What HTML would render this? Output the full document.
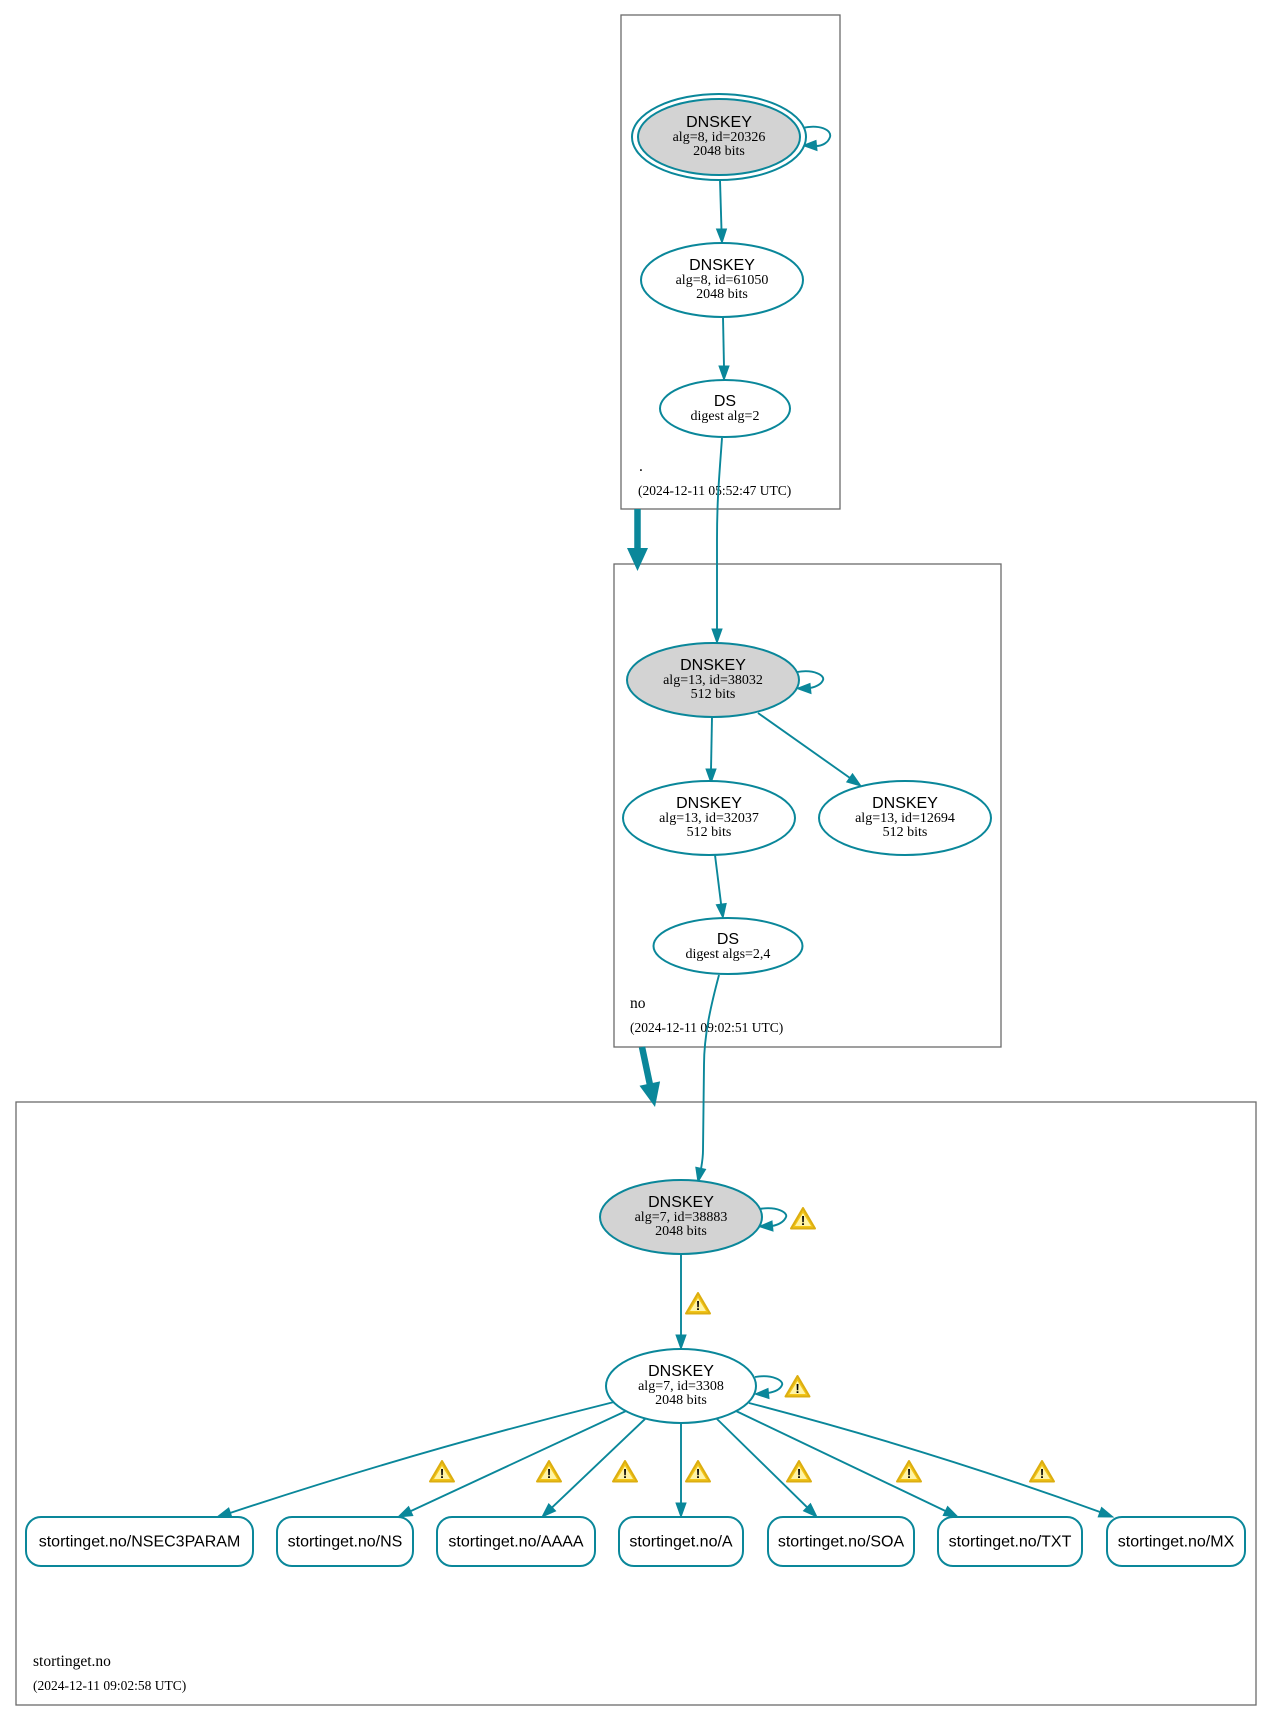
<!DOCTYPE html>
<html>
<head>
<meta charset="utf-8">
<style>
  html,body{margin:0;padding:0;background:#fff;}
  svg{display:block;}
  .sans{font-family:"Liberation Sans",Arial,sans-serif;}
  .serif{font-family:"Liberation Serif","Times New Roman",serif;}
</style>
</head>
<body>
<svg width="1272" height="1721" viewBox="0 0 1272 1721" xmlns="http://www.w3.org/2000/svg">
  <rect x="0" y="0" width="1272" height="1721" fill="#ffffff"/>

  <!-- clusters -->
  <rect x="621" y="15" width="219" height="494" fill="none" stroke="#6b6b6b" stroke-width="1.3"/>
  <rect x="614" y="564" width="387" height="483" fill="none" stroke="#6b6b6b" stroke-width="1.3"/>
  <rect x="16" y="1102" width="1240" height="603" fill="none" stroke="#6b6b6b" stroke-width="1.3"/>

  <!-- cluster labels -->
  <g class="serif" fill="#000">
    <text x="639" y="471" font-size="15.5">.</text>
    <text x="638" y="495" font-size="13.5">(2024-12-11 05:52:47 UTC)</text>
    <text x="630" y="1008" font-size="15.5">no</text>
    <text x="630" y="1032" font-size="13.5">(2024-12-11 09:02:51 UTC)</text>
    <text x="33" y="1666" font-size="15.5">stortinget.no</text>
    <text x="33" y="1690" font-size="13.5">(2024-12-11 09:02:58 UTC)</text>
  </g>

  <!-- thick delegation arrows -->
  <g fill="#0a879a" stroke="none">
    <line x1="637.5" y1="509" x2="637.5" y2="549" stroke="#0a879a" stroke-width="6.5"/>
    <polygon points="627,548 648,548 637.5,571"/>
    <line x1="642" y1="1047" x2="649.8" y2="1084" stroke="#0a879a" stroke-width="6.5"/>
    <polygon points="639.5,1085.8 660.1,1081.4 655,1107"/>
  </g>

  <!-- edges -->
  <g fill="none" stroke="#0a879a" stroke-width="1.9">
    <line x1="720" y1="180" x2="721.5" y2="230"/>
    <line x1="723" y1="317" x2="724" y2="367"/>
    <path d="M722,438 C719,480 717,500 717,540 L717,630"/>
    <line x1="712" y1="717" x2="711" y2="770"/>
    <line x1="758" y1="713" x2="850" y2="778"/>
    <line x1="715" y1="855" x2="721.2" y2="905"/>
    <path d="M719,975 C711,1005 704,1035 704,1065 L703,1150 C703,1158 702,1163 701,1169"/>
    <line x1="681" y1="1254" x2="681" y2="1336"/>
    <!-- from 3308 to records -->
    <path d="M614,1402 Q420,1450 230,1513"/>
    <line x1="626" y1="1411" x2="410.7" y2="1511.1"/>
    <line x1="645" y1="1419" x2="552.1" y2="1507.4"/>
    <line x1="681" y1="1423" x2="681" y2="1504"/>
    <line x1="717" y1="1419" x2="807" y2="1507.2"/>
    <line x1="736" y1="1411" x2="945.4" y2="1511"/>
    <path d="M749,1403 Q930,1450 1100,1512"/>
    <!-- self loops -->
    <path d="M802,128 C820,124 832,130 830,137 C828,143 822,146 816,146"/>
    <path d="M797,672 C815,669 825,676 823,680 C821,685 815,687 810,688"/>
    <path d="M759,1209 C778,1206 788,1213 786,1217 C784,1222 778,1225 772,1226"/>
    <path d="M755,1377 C773,1374 784,1381 782,1385 C780,1390 774,1392 768,1393"/>
  </g>

  <!-- arrowheads -->
  <g fill="#0a879a" stroke="#0a879a" stroke-width="1" stroke-linejoin="miter">
    <polygon points="716.5,229 726.5,229 722,243"/>
    <polygon points="719,366 729,366 724,380"/>
    <polygon points="712,629 722,629 717,643"/>
    <polygon points="706,769 716,769 711,783"/>
    <polygon points="846.7,782 852.5,773.8 861,786"/>
    <polygon points="716.3,904.7 726.2,903.5 723,918"/>
    <polygon points="695.8,1167.3 705.6,1169.3 698,1182"/>
    <polygon points="676,1335 686,1335 681,1349"/>
    <polygon points="228.7,1507.9 231.9,1517.4 217,1517"/>
    <polygon points="408.6,1506.6 412.8,1515.6 398,1517"/>
    <polygon points="548.7,1503.8 555.6,1511.0 542,1517"/>
    <polygon points="676,1503 686,1503 681,1517"/>
    <polygon points="803.5,1510.8 810.5,1503.6 817,1517"/>
    <polygon points="943.2,1515.5 947.6,1506.5 958,1517"/>
    <polygon points="1098.2,1516.9 1101.6,1507.5 1113,1517"/>
    <!-- self-loop heads -->
    <polygon points="816,140.5 817,150.5 803,145.5"/>
    <polygon points="810,683.5 811,693.5 797,688.5"/>
    <polygon points="772,1221 773,1231 759,1226.5"/>
    <polygon points="768,1388.5 769,1398.5 755,1394"/>
  </g>

  <!-- nodes -->
  <g stroke="#0a879a" stroke-width="2">
    <ellipse cx="719" cy="137" rx="87" ry="43" fill="#ffffff"/>
    <ellipse cx="719" cy="137" rx="81" ry="38" fill="#d3d3d3"/>
    <ellipse cx="722" cy="280" rx="81" ry="37" fill="#ffffff"/>
    <ellipse cx="725" cy="408.5" rx="65" ry="28.5" fill="#ffffff"/>

    <ellipse cx="713" cy="680" rx="86" ry="37" fill="#d3d3d3"/>
    <ellipse cx="709" cy="818" rx="86" ry="37" fill="#ffffff"/>
    <ellipse cx="905" cy="818" rx="86" ry="37" fill="#ffffff"/>
    <ellipse cx="728" cy="946" rx="74.5" ry="28" fill="#ffffff"/>

    <ellipse cx="681" cy="1217" rx="81" ry="37" fill="#d3d3d3"/>
    <ellipse cx="681" cy="1386" rx="75" ry="37" fill="#ffffff"/>

    <rect x="26" y="1517" width="227" height="49" rx="15" ry="15" fill="#ffffff"/>
    <rect x="277" y="1517" width="136" height="49" rx="15" ry="15" fill="#ffffff"/>
    <rect x="437" y="1517" width="158" height="49" rx="15" ry="15" fill="#ffffff"/>
    <rect x="619" y="1517" width="124" height="49" rx="15" ry="15" fill="#ffffff"/>
    <rect x="768" y="1517" width="146" height="49" rx="15" ry="15" fill="#ffffff"/>
    <rect x="938" y="1517" width="144" height="49" rx="15" ry="15" fill="#ffffff"/>
    <rect x="1107" y="1517" width="138" height="49" rx="15" ry="15" fill="#ffffff"/>
  </g>

  <!-- node text -->
  <g fill="#000" text-anchor="middle">
    <text class="sans" x="719" y="127" font-size="16">DNSKEY</text>
    <text class="serif" x="719" y="141" font-size="14">alg=8, id=20326</text>
    <text class="serif" x="719" y="155" font-size="14">2048 bits</text>

    <text class="sans" x="722" y="270" font-size="16">DNSKEY</text>
    <text class="serif" x="722" y="284" font-size="14">alg=8, id=61050</text>
    <text class="serif" x="722" y="298" font-size="14">2048 bits</text>

    <text class="sans" x="725" y="406" font-size="16">DS</text>
    <text class="serif" x="725" y="420" font-size="14">digest alg=2</text>

    <text class="sans" x="713" y="670" font-size="16">DNSKEY</text>
    <text class="serif" x="713" y="684" font-size="14">alg=13, id=38032</text>
    <text class="serif" x="713" y="698" font-size="14">512 bits</text>

    <text class="sans" x="709" y="808" font-size="16">DNSKEY</text>
    <text class="serif" x="709" y="822" font-size="14">alg=13, id=32037</text>
    <text class="serif" x="709" y="836" font-size="14">512 bits</text>

    <text class="sans" x="905" y="808" font-size="16">DNSKEY</text>
    <text class="serif" x="905" y="822" font-size="14">alg=13, id=12694</text>
    <text class="serif" x="905" y="836" font-size="14">512 bits</text>

    <text class="sans" x="728" y="944" font-size="16">DS</text>
    <text class="serif" x="728" y="958" font-size="14">digest algs=2,4</text>

    <text class="sans" x="681" y="1207" font-size="16">DNSKEY</text>
    <text class="serif" x="681" y="1221" font-size="14">alg=7, id=38883</text>
    <text class="serif" x="681" y="1235" font-size="14">2048 bits</text>

    <text class="sans" x="681" y="1376" font-size="16">DNSKEY</text>
    <text class="serif" x="681" y="1390" font-size="14">alg=7, id=3308</text>
    <text class="serif" x="681" y="1404" font-size="14">2048 bits</text>

    <text class="sans" x="139.5" y="1546.5" font-size="16">stortinget.no/NSEC3PARAM</text>
    <text class="sans" x="345" y="1546.5" font-size="16">stortinget.no/NS</text>
    <text class="sans" x="516" y="1546.5" font-size="16">stortinget.no/AAAA</text>
    <text class="sans" x="681" y="1546.5" font-size="16">stortinget.no/A</text>
    <text class="sans" x="841" y="1546.5" font-size="16">stortinget.no/SOA</text>
    <text class="sans" x="1010" y="1546.5" font-size="16">stortinget.no/TXT</text>
    <text class="sans" x="1176" y="1546.5" font-size="16">stortinget.no/MX</text>
  </g>

  <!-- warning icons -->
  <g text-anchor="middle" font-family="Liberation Sans, Arial, sans-serif" font-weight="bold" font-size="13">
    <g transform="translate(803,1218)">
      <polygon points="0,-10 12,10.5 -12,10.5" fill="#f3c517" stroke="#dcae10" stroke-width="2" stroke-linejoin="round"/>
      <polygon points="0,-5 8,8 -8,8" fill="#fff4a6"/>
      <text x="0" y="7" fill="#000">!</text>
    </g>
    <g transform="translate(698,1303)">
      <polygon points="0,-10 12,10.5 -12,10.5" fill="#f3c517" stroke="#dcae10" stroke-width="2" stroke-linejoin="round"/>
      <polygon points="0,-5 8,8 -8,8" fill="#fff4a6"/>
      <text x="0" y="7" fill="#000">!</text>
    </g>
    <g transform="translate(797.5,1386)">
      <polygon points="0,-10 12,10.5 -12,10.5" fill="#f3c517" stroke="#dcae10" stroke-width="2" stroke-linejoin="round"/>
      <polygon points="0,-5 8,8 -8,8" fill="#fff4a6"/>
      <text x="0" y="7" fill="#000">!</text>
    </g>
    <g transform="translate(442,1471)">
      <polygon points="0,-10 12,10.5 -12,10.5" fill="#f3c517" stroke="#dcae10" stroke-width="2" stroke-linejoin="round"/>
      <polygon points="0,-5 8,8 -8,8" fill="#fff4a6"/>
      <text x="0" y="7" fill="#000">!</text>
    </g>
    <g transform="translate(549,1471)">
      <polygon points="0,-10 12,10.5 -12,10.5" fill="#f3c517" stroke="#dcae10" stroke-width="2" stroke-linejoin="round"/>
      <polygon points="0,-5 8,8 -8,8" fill="#fff4a6"/>
      <text x="0" y="7" fill="#000">!</text>
    </g>
    <g transform="translate(625,1471)">
      <polygon points="0,-10 12,10.5 -12,10.5" fill="#f3c517" stroke="#dcae10" stroke-width="2" stroke-linejoin="round"/>
      <polygon points="0,-5 8,8 -8,8" fill="#fff4a6"/>
      <text x="0" y="7" fill="#000">!</text>
    </g>
    <g transform="translate(698,1471)">
      <polygon points="0,-10 12,10.5 -12,10.5" fill="#f3c517" stroke="#dcae10" stroke-width="2" stroke-linejoin="round"/>
      <polygon points="0,-5 8,8 -8,8" fill="#fff4a6"/>
      <text x="0" y="7" fill="#000">!</text>
    </g>
    <g transform="translate(799,1471)">
      <polygon points="0,-10 12,10.5 -12,10.5" fill="#f3c517" stroke="#dcae10" stroke-width="2" stroke-linejoin="round"/>
      <polygon points="0,-5 8,8 -8,8" fill="#fff4a6"/>
      <text x="0" y="7" fill="#000">!</text>
    </g>
    <g transform="translate(909,1471)">
      <polygon points="0,-10 12,10.5 -12,10.5" fill="#f3c517" stroke="#dcae10" stroke-width="2" stroke-linejoin="round"/>
      <polygon points="0,-5 8,8 -8,8" fill="#fff4a6"/>
      <text x="0" y="7" fill="#000">!</text>
    </g>
    <g transform="translate(1042,1471)">
      <polygon points="0,-10 12,10.5 -12,10.5" fill="#f3c517" stroke="#dcae10" stroke-width="2" stroke-linejoin="round"/>
      <polygon points="0,-5 8,8 -8,8" fill="#fff4a6"/>
      <text x="0" y="7" fill="#000">!</text>
    </g>
  </g>
</svg>
</body>
</html>
